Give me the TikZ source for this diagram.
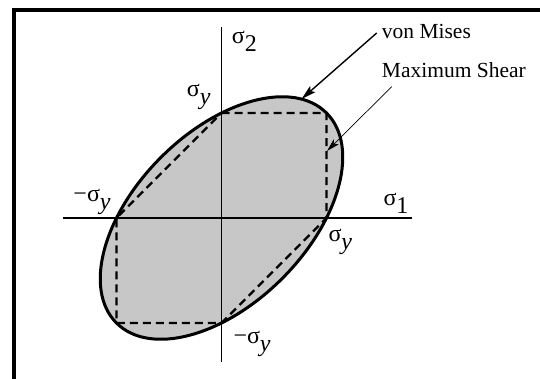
\documentclass[tikz,border=0pt]{standalone}
\usepackage{fontspec}
\setmainfont{Liberation Serif}
\usetikzlibrary{arrows.meta}
\newcommand{\sgm}{σ}
\newcommand{\sbs}[1]{\raisebox{-8pt}{#1}}
\begin{document}
\begin{tikzpicture}[x=1pt,y=1pt,
  lab/.style={inner sep=0pt, anchor=base west, font=\fontsize{24}{24}\selectfont},
  txt/.style={inner sep=0pt, anchor=base west, font=\fontsize{21.5}{21.5}\selectfont},
  axisline/.style={line width=1.2pt},
  vmline/.style={line width=3pt},
  tresca/.style={line width=2.4pt, dash pattern=on 8pt off 5pt, line join=miter},
  ptr/.style={line width=1.4pt,-{Stealth[length=15pt,width=8pt,inset=3pt]}},
  ptrthin/.style={line width=0.7pt,-{Stealth[length=13pt,width=7pt,inset=3pt]}},
]
\useasboundingbox (-221.5,-160) rectangle (318.5,218);
% frame
\draw[line width=4pt, line join=miter] (-207.5,-175) -- (-207.5,207.5) -- (335,207.5);
% von Mises region fill
\fill[black!22, rotate=45] (0,0) ellipse [x radius=148.5, y radius=85.7];
% axes
\coordinate (vb) at (0,-143.7);
\coordinate (vt) at (0,191.3);
\coordinate (hl) at (-158.5,0);
\coordinate (hr) at (190.8,0);
\draw[axisline] (vb) -- (vt);
\draw[axisline] (hl) -- (hr);
% Tresca hexagon
\coordinate (p1) at (0,105);
\coordinate (p2) at (105,105);
\coordinate (p3) at (105,0);
\coordinate (p4) at (0,-105);
\coordinate (p5) at (-105,-105);
\coordinate (p6) at (-105,0);
\draw[tresca] (p1) -- (p2) -- (p3) -- (p4) -- (p5) -- (p6) -- cycle;
% von Mises ellipse outline
\draw[vmline, rotate=45] (0,0) ellipse [x radius=148.5, y radius=85.7];
% labels
\node[lab] (s2) at (10.2,174.7) {\sgm\sbs{2}};
\node[lab] (s1) at (161.8,13) {\sgm\sbs{1}};
\node[lab] (syt) at (-34.8,121.3) {\sgm\sbs{\textit{y}}};
\node[lab] (syr) at (106.8,-23.7) {\sgm\sbs{\textit{y}}};
\node[lab] (syl) at (-148.2,16.3) {−\sgm\sbs{\textit{y}}};
\node[lab] (syb) at (11.8,-125.3) {−\sgm\sbs{\textit{y}}};
\node[txt] (vm) at (160.2,179.7) {von Mises};
\node[txt] (ms) at (160.2,140.3) {Maximum Shear};
% pointers
\coordinate (vmstart) at (155.2,185);
\coordinate (vmtip) at (80,119);
\coordinate (msstart) at (170.2,131.3);
\coordinate (mstip) at (105.5,67);
\draw[ptr] (vmstart) -- (vmtip);
\draw[ptrthin] (msstart) -- (mstip);
\end{tikzpicture}
\end{document}
